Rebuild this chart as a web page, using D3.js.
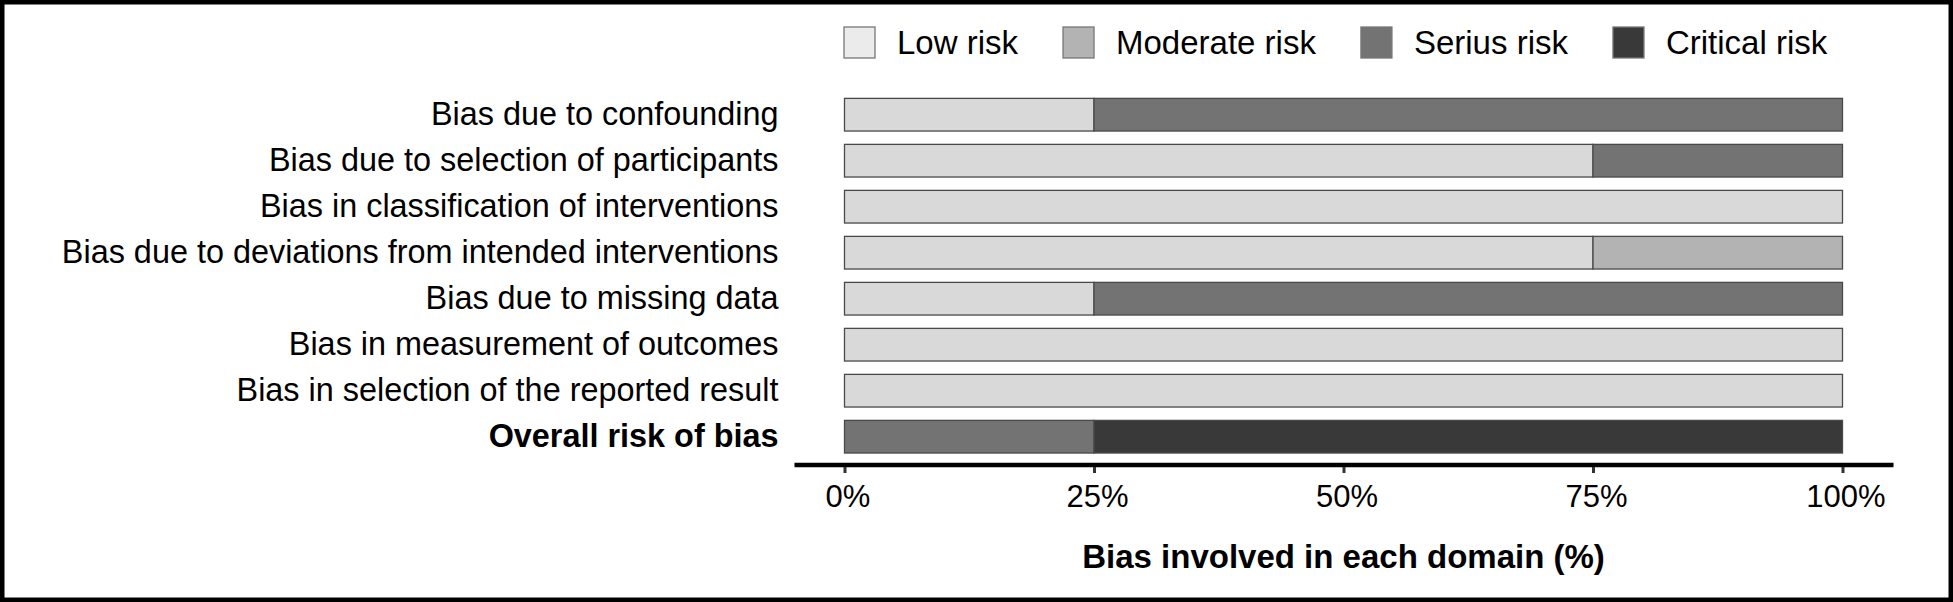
<!DOCTYPE html>
<html>
<head>
<meta charset="utf-8">
<script src="https://cdn.jsdelivr.net/npm/d3@7"></script>
<style>
  body { margin: 0; background: #fff; }
  svg text { font-family: "Liberation Sans", Arial, Helvetica, sans-serif; fill: #000; }
</style>
</head>
<body>
<svg id="chart" width="1953" height="602"></svg>
<script>
// domains (top to bottom) and the share of studies in each risk level (%)
const domains = [
  "Bias due to confounding",
  "Bias due to selection of participants",
  "Bias in classification of interventions",
  "Bias due to deviations from intended interventions",
  "Bias due to missing data",
  "Bias in measurement of outcomes",
  "Bias in selection of the reported result",
  "Overall risk of bias"
];
const lowRisk      = [25, 75, 100, 75, 25, 100, 100, 0];
const moderateRisk = [0, 0, 0, 25, 0, 0, 0, 0];
const seriusRisk   = [75, 25, 0, 0, 75, 0, 0, 25];
const criticalRisk = [0, 0, 0, 0, 0, 0, 0, 75];

const levels = ["Low risk", "Moderate risk", "Serius risk", "Critical risk"];
const barColors = ["#d9d9d9", "#b3b3b3", "#737373", "#393939"];
const keyColors = ["#ebebeb", "#b3b3b3", "#737373", "#393939"];
const xTicks = [0, 25, 50, 75, 100];

const svg = d3.select("#chart");

// frame
svg.append("rect")
  .attr("x", 0).attr("y", 0)
  .attr("width", 1953).attr("height", 602)
  .attr("fill", "none")
  .attr("stroke", "#000")
  .attr("stroke-width", 9);

const x = d3.scaleLinear().domain([0, 100]).range([844.5, 1842.5]);
const y = d3.scaleBand().domain(domains).range([91.7, 459.7])
  .paddingInner(0.29).paddingOuter(0.145);

// stacked data
const rows = domains.map((d, i) => ({
  domain: d,
  "Low risk": lowRisk[i],
  "Moderate risk": moderateRisk[i],
  "Serius risk": seriusRisk[i],
  "Critical risk": criticalRisk[i]
}));
const series = d3.stack().keys(levels)(rows);

svg.append("g")
  .selectAll("g")
  .data(series)
  .enter()
  .append("g")
  .attr("fill", (d, i) => barColors[i])
  .selectAll("rect")
  .data(d => d.filter(p => p[1] > p[0]))
  .enter()
  .append("rect")
  .attr("x", d => x(d[0]))
  .attr("y", d => y(d.data.domain))
  .attr("width", d => x(d[1]) - x(d[0]))
  .attr("height", y.bandwidth())
  .attr("stroke", "#4a4a4a")
  .attr("stroke-width", 1.3);

// domain labels
const yAxis = svg.append("g")
  .attr("transform", `translate(${x(0)},0)`)
  .call(d3.axisLeft(y).tickSize(0).tickPadding(66));
yAxis.select(".domain").remove();
yAxis.selectAll("text")
  .attr("font-size", 32.4)
  .attr("font-family", null)
  .style("font-weight", d => d === "Overall risk of bias" ? "bold" : "normal");

// x axis
const axisY = 465;
svg.append("line")
  .attr("x1", x(0) - 50).attr("x2", x(100) + 51)
  .attr("y1", axisY).attr("y2", axisY)
  .attr("stroke", "#000")
  .attr("stroke-width", 4.5);

const xAxis = svg.append("g")
  .attr("transform", `translate(0,${axisY + 2})`)
  .call(d3.axisBottom(x).tickValues(xTicks).tickFormat(d => d + "%").tickSize(6).tickPadding(12));
xAxis.select(".domain").remove();
xAxis.selectAll(".tick line").attr("stroke", "#333").attr("stroke-width", 3);
xAxis.selectAll("text")
  .attr("font-size", 31)
  .attr("font-family", null)
  .attr("dx", 3)
  .attr("fill", "#000");

svg.append("text")
  .attr("x", (x(0) + x(100)) / 2)
  .attr("y", 568)
  .attr("text-anchor", "middle")
  .attr("font-size", 33)
  .attr("font-weight", "bold")
  .text("Bias involved in each domain (%)");

// legend
const legend = svg.append("g");
let lx = 844;
levels.forEach((name, i) => {
  legend.append("rect")
    .attr("x", lx).attr("y", 27)
    .attr("width", 31).attr("height", 31)
    .attr("fill", keyColors[i])
    .attr("stroke", "#777")
    .attr("stroke-width", 1.3);
  const t = legend.append("text")
    .attr("x", lx + 53)
    .attr("y", 42.5)
    .attr("dy", "0.35em")
    .attr("font-size", 33)
    .text(name);
  lx += 53 + t.node().getComputedTextLength() + 45;
});
</script>
</body>
</html>
